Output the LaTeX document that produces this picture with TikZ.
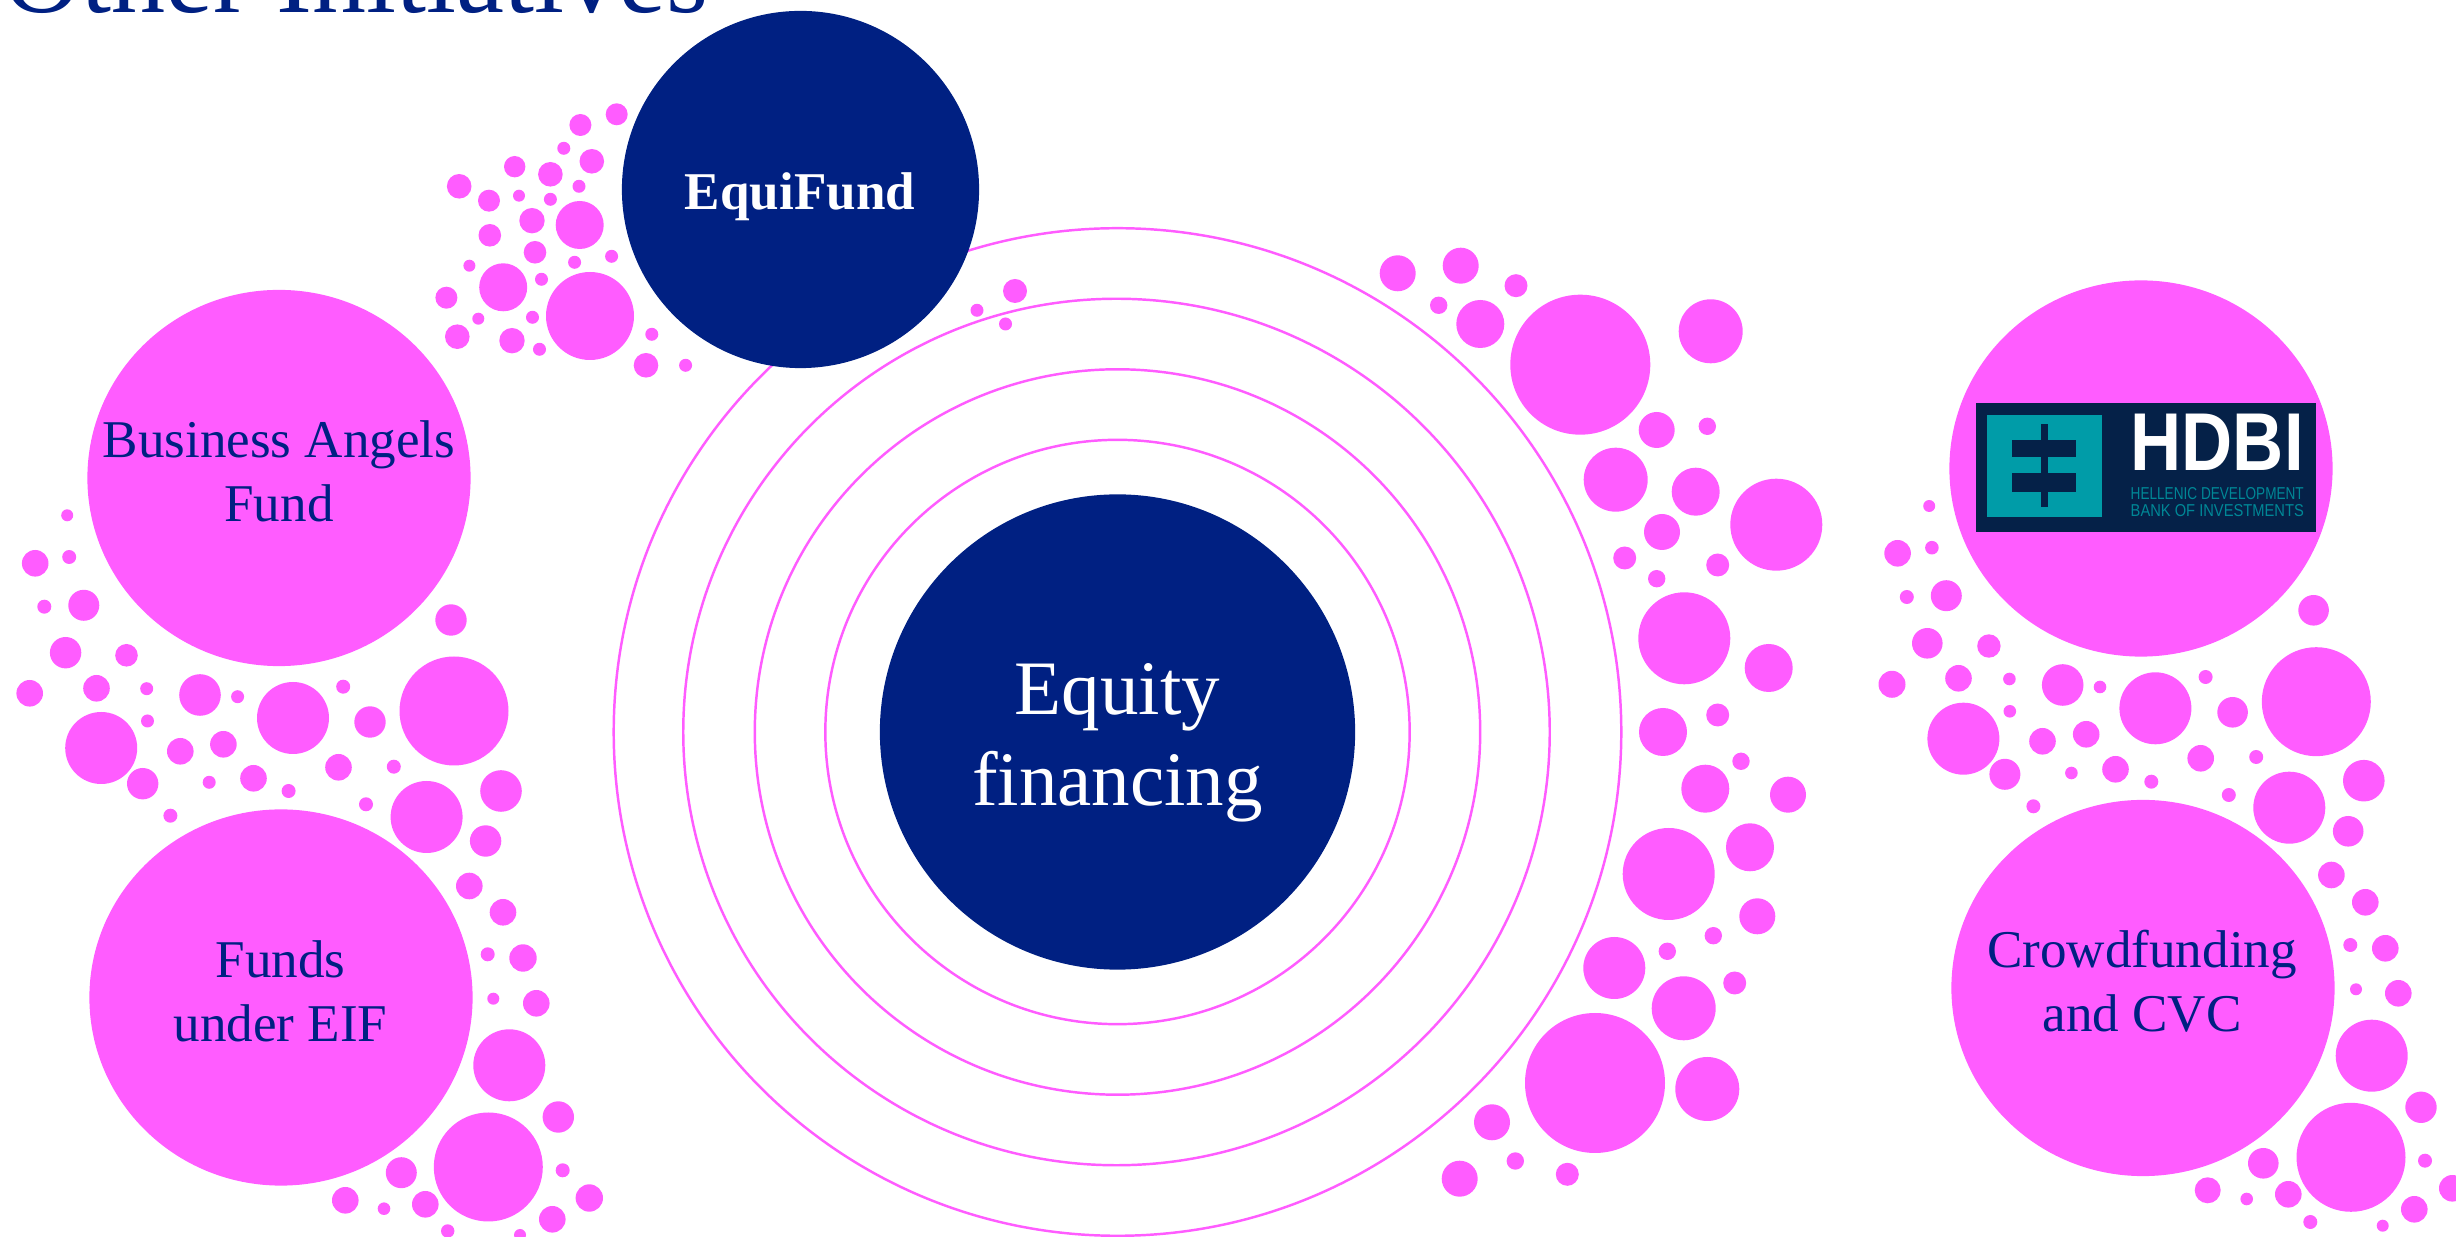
\documentclass[tikz,border=0pt]{standalone}
\usepackage{fontspec}
\setmainfont{Liberation Serif}
\newfontfamily\logofont{Liberation Sans}
\usepackage{tikz}
\usetikzlibrary{shapes.geometric}
\definecolor{navyfill}{HTML}{002082}
\definecolor{pinkfill}{HTML}{FF5CFF}
\definecolor{logodark}{HTML}{052148}
\definecolor{logoteal}{HTML}{009CA8}
\definecolor{logotext}{HTML}{008796}
\tikzset{
	x=0.01cm, y=-0.01cm, % one unit is one pixel of the reference
	bubble/.style={fill=pinkfill}, % small dots of the clusters
	ringline/.style={circle, draw=pinkfill, line width=0.7pt, inner sep=0pt}, % rings round the centre
	navyblob/.style={circle, fill=navyfill, inner sep=0pt}, % dark discs
	pinkblob/.style={ellipse, fill=pinkfill, inner sep=0pt, minimum width=3.83cm, minimum height=3.76cm}, % pink discs
	pinktext/.style={align=center, text=navyfill, inner sep=0pt, font=\fontsize{15.1}{18.2}\selectfont}, % text on pink
	logoblock/.style={inner sep=0pt, outer sep=0pt, rectangle} % pieces of the logo
}

\begin{document}
\begin{tikzpicture}
	\clip (0,0) rectangle (2456,1237);
	% title, cut by the top of the page
	\node[anchor=base west, inner sep=0pt, text=navyfill, font=\fontsize{30.7}{36}\selectfont] (title) at (3,12.5) {Other Initiatives};
	% rings and centre
	\node[ringline, minimum size=10.07cm] (ringd) at (1117.5,732) {};
	\node[ringline, minimum size=8.66cm] (ringc) at (1116.5,732) {};
	\node[ringline, minimum size=7.25cm] (ringb) at (1117.5,732) {};
	\node[ringline, minimum size=5.84cm] (ringa) at (1117.5,732) {};
	\node[navyblob, minimum size=4.75cm] (equity) at (1117.5,732) {};
	\node[align=center, text=white, inner sep=0pt, font=\fontsize{21.9}{25.8}\selectfont] (equitytext) at (1117.5,743) {Equity\\financing};
	% dots beside EquiFund
	\foreach \x/\y/\r in {616.7/114.3/11, 580.4/125/11, 563.8/148.3/6.5, 591.8/161.3/12.3, 514.7/166.7/10.7, 550.4/174.3/12.3,
			459.2/186.3/12.3, 579/186.3/6.5, 489/200.7/11, 519/195.7/6, 550.4/199.3/6.5, 532/220.7/12.7, 579.7/225/24,
			489.8/235.3/11.3, 535/252.3/11.3, 611.6/256.3/6.5, 574.6/262.3/6.5, 469.4/265.7/6, 541.5/279.3/6.5, 503.2/287.3/24,
			590/316/44, 446.4/297.7/11, 478.3/318.7/6, 532.5/317.3/6.5, 457.3/336.7/12.3, 512/340.7/12.7, 539.5/349.3/6.5,
			651.8/334.3/6.5, 646/365.3/12.3, 685.6/365.3/6.5, 977/310.3/6.5, 1015/291/12, 1005.5/324/6.5}
		\fill[bubble] (\x,\y) circle (\r);
	% dots between the left discs
	\foreach \x/\y/\r in {67.2/515.3/6, 35.2/563.3/13.3, 69.2/557/7, 83.8/605.3/15.5, 44.3/606.7/7, 65.6/652.7/15.7, 126.5/655.3/11.3,
			29.7/693.3/13.3, 96.5/688.3/13.3, 146.7/688.7/6.5, 200/695/20.8, 237.6/696.7/6.5, 293/718/36, 343.2/686.7/7, 370/722/15.7,
			454/711/54.5, 451/620/15.7, 101.2/748/36, 147.5/721/6.5, 180.3/751.3/13.3, 223.4/744.3/13.3, 253.5/778.3/13.3, 338.5/767.3/13.3,
			393.8/766.7/7, 142.7/783.7/15.7, 209.2/782.3/6.5, 288.6/791/7, 366/804.3/7, 170.4/815.7/7, 426.6/817/36, 501/791/20.8,
			485.6/841/15.7, 469.3/886/13.3, 503/912.3/13.3, 487.7/954.3/7, 523/958/13.7, 493.3/998.7/6, 536.3/1003.3/13.3, 509.3/1065.3/36,
			558.3/1117/15.7, 488.3/1167/54.5, 401.3/1172.7/15.5, 562.7/1170.3/7, 589.3/1198/13.7, 345.3/1200.3/13.3, 384/1208.7/6.3,
			425.3/1204.3/13.3, 552.3/1219.3/13.3, 447.7/1231/6.7, 520/1235/6}
		\fill[bubble] (\x,\y) circle (\r);
	% dots right of the rings
	\foreach \x/\y/\r in {1397.7/273.3/18, 1460.7/265.7/18, 1438.7/305.3/8.7, 1516/285.7/11.5, 1480.3/324/24, 1580.3/364.7/70, 1710.7/331.3/32,
			1656.7/430/18, 1707.3/426.3/8.7, 1615.7/479.7/32, 1695.7/491.7/24, 1776.3/524.7/46, 1662/532/18, 1624.7/558/11.5, 1656.7/578.7/8.7,
			1717.7/565/11.5, 1684.3/638.3/46, 1768.7/668/24, 1717.7/715/11.5, 1663/732/24, 1741/761.3/8.7, 1705.3/788.7/24, 1788/794.7/18,
			1750/847.3/24, 1668.7/874/46, 1757.3/916.3/18, 1713.3/935.7/8.7, 1667.3/951.3/8.7, 1614.3/968/31, 1734.7/983/11.5, 1683.7/1008.3/32,
			1595/1083/70, 1707.3/1089/32, 1492/1122.3/18, 1515.3/1161/8.7, 1459.7/1178.7/18, 1567.3/1174.3/11.5}
		\fill[bubble] (\x,\y) circle (\r);
	% dots between the right discs
	\foreach \x/\y/\r in {1929.2/506/6, 1897.6/553.3/13.3, 1931.9/547.7/6.8, 1946.3/595.7/15.5, 1906.8/597/7, 1927.3/643.3/15.3, 1988.9/646/11.7,
			1892/684.3/13.5, 1958.5/678.3/13.3, 2009.4/679/6.3, 2062.7/685/20.8, 2100/687/6.3, 2155.4/708.3/36, 2205.6/677/7, 2232.6/712.3/15.3,
			2316.3/701.7/54.5, 2313.6/610.3/15.3, 1963.4/738.7/36, 2009.8/711.3/6.3, 2042.5/741.3/13.3, 2086.2/734.3/13.3, 2115.5/769.3/13.3,
			2200.7/758.3/13.3, 2256.2/757/7, 2004.9/774.3/15.5, 2071.4/773/6.3, 2151.3/781.7/7, 2228.8/795/7, 2033.4/806.3/7, 2289.3/807.7/36,
			2363.8/780.7/20.8, 2348.2/831.3/15.3, 2331.4/875/13.3, 2365.3/902.3/13.3, 2350.3/945/7, 2385.3/948.3/13.3, 2356/989.3/6, 2398.3/993.3/13.3,
			2371.7/1055.7/36, 2421/1107.3/15.7, 2351/1157.3/54.5, 2263.3/1163.3/15.3, 2425/1160.7/7, 2452.3/1188.3/13.3, 2207.7/1190.3/13,
			2246.7/1199/6.3, 2288.3/1194.3/13.3, 2414.3/1209.3/13.3, 2310.3/1222/7, 2382.7/1225.7/6}
		\fill[bubble] (\x,\y) circle (\r);
	% discs
	\node[navyblob, minimum size=3.57cm] (equifund) at (800.5,189.5) {};
	\node[anchor=base, inner sep=0pt, text=white, font=\fontsize{15.1}{18}\selectfont\bfseries] (equifundtext) at (800,210) {EquiFund};
	\node[pinkblob] (angels) at (279,478) {};
	\node[pinktext] (angelstext) at (279,471) {Business Angels\\Fund};
	\node[pinkblob] (eif) at (281,997.5) {};
	\node[pinktext] (eiftext) at (280.5,991.5) {Funds\\under EIF};
	\node[pinkblob] (hdbi) at (2141,468.5) {};
	\node[pinkblob] (crowd) at (2143,988) {};
	\node[pinktext] (crowdtext) at (2142,981.5) {Crowdfunding\\and CVC};
	% logo on the HDBI disc
	\node[logoblock, fill=logodark, minimum width=3.4cm, minimum height=1.29cm] (logo) at (2146,467.5) {};
	\node[logoblock, fill=logoteal, minimum width=1.15cm, minimum height=1.02cm] (logosquare) at (2044.2,466) {};
	\node[logoblock, fill=logodark, minimum width=0.07cm, minimum height=0.83cm] (logobar) at (2044.2,465.8) {};
	\node[logoblock, fill=logodark, minimum width=0.63cm, minimum height=0.175cm] (logoupper) at (2044,448.7) {};
	\node[logoblock, fill=logodark, minimum width=0.63cm, minimum height=0.19cm] (logolower) at (2044,482.5) {};
	\node[anchor=base west, inner sep=0pt, text=white, font=\logofont\bfseries] (logoname) at (2130,470.7) {\resizebox{1.73cm}{0.564cm}{HDBI}};
	\node[anchor=base west, inner sep=0pt, text=logotext, font=\logofont] (logoline) at (2130,500) {\resizebox{1.73cm}{0.12cm}{HELLENIC DEVELOPMENT}};
	\node[anchor=base west, inner sep=0pt, text=logotext, font=\logofont] (logonext) at (2130,516.7) {\resizebox{1.73cm}{0.12cm}{BANK OF INVESTMENTS}};
\end{tikzpicture}
\end{document}
